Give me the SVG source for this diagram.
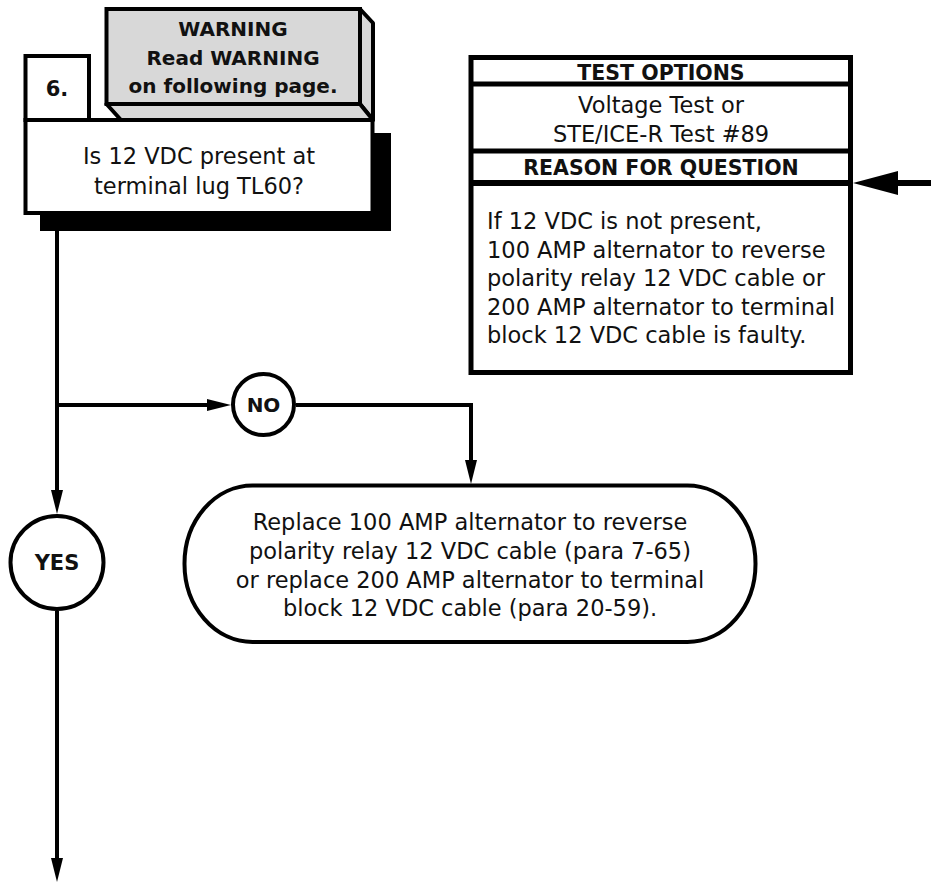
<svg xmlns="http://www.w3.org/2000/svg" width="931" height="888" viewBox="0 0 931 888">
<style>
.box{fill:#fff;stroke:#000;stroke-width:4;stroke-linejoin:miter}
.gray{fill:#d8d8d8;stroke:#000;stroke-width:4;stroke-linejoin:round}
.t{font-family:"DejaVu Sans","Liberation Sans",sans-serif;font-size:22.5px;fill:#111}
.b{font-family:"DejaVu Sans","Liberation Sans",sans-serif;font-weight:bold;font-size:20px;fill:#111}
.c{text-anchor:middle}
.ln{fill:none;stroke:#000;stroke-width:4}
</style>
<defs>
<marker id="ah" viewBox="0 0 24 12" markerWidth="24" markerHeight="12" refX="14" refY="6" orient="auto" markerUnits="userSpaceOnUse"><path d="M0,0 L24,6 L0,12 z" fill="#000"/></marker>
<marker id="ahBig" viewBox="0 0 45 24" markerWidth="45" markerHeight="24" refX="23" refY="12" orient="auto" markerUnits="userSpaceOnUse"><path d="M0,0 L45,12 L0,24 z" fill="#000"/></marker>
</defs>

<g id="connectors">
<path class="ln" d="M57,231 V504" marker-end="url(#ah)"/>
<path class="ln" d="M57,611 V872" marker-end="url(#ah)"/>
<path class="ln" d="M57,405 H221" marker-end="url(#ah)"/>
<path class="ln" d="M296,405 H471 V474" marker-end="url(#ah)"/>
<path d="M931,183 H875" fill="none" stroke="#000" stroke-width="6" marker-end="url(#ahBig)"/>
</g>

<g id="step6">
<rect x="40" y="133" width="351" height="98" fill="#000"/>
<polygon class="gray" points="360,9 373,23 373,120 360,104"/>
<polygon class="gray" points="106.5,104 360,104 373,120 121,120"/>
<rect class="gray" x="106.5" y="9" width="253.5" height="95" style="stroke-linejoin:miter"/>
<text class="b c" x="233" y="36">WARNING</text>
<text class="b c" x="233" y="65">Read WARNING</text>
<text class="b c" x="233" y="93">on following page.</text>
<rect class="box" x="25.5" y="56" width="63.5" height="64"/>
<text class="b c" x="57" y="96" style="font-size:21px">6.</text>
<rect class="box" x="25.5" y="120" width="347" height="93"/>
<text class="t c" x="199" y="164">Is 12 VDC present at</text>
<text class="t c" x="199" y="194">terminal lug TL60?</text>
</g>

<g id="testOptions">
<rect class="box" x="471" y="57.5" width="379.5" height="315" style="stroke-width:5"/>
<line x1="471" y1="84" x2="850.5" y2="84" stroke="#000" stroke-width="5"/>
<line x1="471" y1="151" x2="850.5" y2="151" stroke="#000" stroke-width="5"/>
<line x1="471" y1="183" x2="850.5" y2="183" stroke="#000" stroke-width="6"/>
<text class="b c" x="661" y="80" style="font-size:20.5px">TEST OPTIONS</text>
<text class="t c" x="661" y="113">Voltage Test or</text>
<text class="t c" x="661" y="142">STE/ICE-R Test #89</text>
<text class="b c" x="661" y="175" style="font-size:20.5px">REASON FOR QUESTION</text>
<text class="t" x="487" y="229">If 12 VDC is not present,</text>
<text class="t" x="487" y="257.5">100 AMP alternator to reverse</text>
<text class="t" x="487" y="286">polarity relay 12 VDC cable or</text>
<text class="t" x="487" y="314.5">200 AMP alternator to terminal</text>
<text class="t" x="487" y="343">block 12 VDC cable is faulty.</text>
</g>

<g id="no">
<circle class="box" cx="263.5" cy="404.5" r="30.5"/>
<text class="b c" x="263.5" y="412">NO</text>
</g>

<g id="yes">
<circle class="box" cx="57" cy="562.5" r="46.5"/>
<text class="b c" x="57" y="570" style="font-size:21px">YES</text>
</g>

<g id="replace">
<rect class="box" x="184.5" y="485.5" width="571" height="156.5" rx="68" ry="78"/>
<text class="t c" x="470" y="530">Replace 100 AMP alternator to reverse</text>
<text class="t c" x="470" y="559">polarity relay 12 VDC cable (para 7-65)</text>
<text class="t c" x="470" y="587.5">or replace 200 AMP alternator to terminal</text>
<text class="t c" x="470" y="616">block 12 VDC cable (para 20-59).</text>
</g>
</svg>
